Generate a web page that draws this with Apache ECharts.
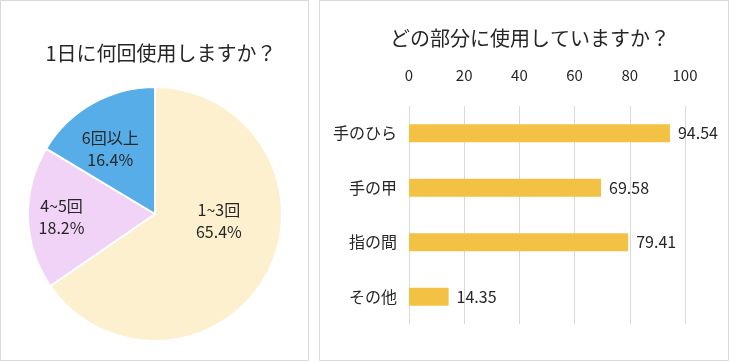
<!DOCTYPE html>
<html>
<head>
<meta charset="utf-8">
<script src="https://cdn.jsdelivr.net/npm/echarts@6/dist/echarts.min.js"></script>
<style>
html,body{margin:0;padding:0;background:#fff;}
#c{width:730px;height:362px;}
</style>
</head>
<body>
<div id="c"></div>
<script>
// Pie data
const pieTitle = '1日に何回使用しますか？';
const pieNames = ['1~3回', '4~5回', '6回以上'];
const pieValues = [65.4, 18.2, 16.4];
const pieColors = ['#FCF0CF', '#F1D3F7', '#56ADE8'];
// label nudges (px) to mimic original placement
const pieLabelOffsets = [[5, -24], [-27, 1], [-12, -7]];

// Bar data
const barTitle = 'どの部分に使用していますか？';
const barCategories = ['手のひら', '手の甲', '指の間', 'その他'];
const barValues = [94.54, 69.58, 79.41, 14.35];
const xTicks = [0, 20, 40, 60, 80, 100];

const font = '"Noto Sans CJK JP", "Noto Sans", sans-serif';
const txt = '#262626';

const chart = echarts.init(document.getElementById('c'), null, {renderer: 'canvas'});
chart.setOption({
  backgroundColor: '#fff',
  animation: false,
  textStyle: {fontFamily: font, color: txt},
  graphic: [
    {type: 'rect', shape: {x: 0.5, y: 0.5, width: 308, height: 360}, style: {fill: 'none', stroke: '#D9D9D9', lineWidth: 1}, z: -1},
    {type: 'rect', shape: {x: 319.5, y: 0.5, width: 409, height: 360}, style: {fill: 'none', stroke: '#D9D9D9', lineWidth: 1}, z: -1}
  ],
  title: [
    {text: pieTitle, left: 156, top: 38, textAlign: 'center',
     textStyle: {fontFamily: font, fontSize: 20, fontWeight: 'normal', color: txt}},
    {text: barTitle, left: 525, top: 23, textAlign: 'center',
     textStyle: {fontFamily: font, fontSize: 20, fontWeight: 'normal', color: txt}}
  ],
  grid: {left: 409, right: 45, top: 106, bottom: 38, containLabel: false},
  xAxis: {
    type: 'value', position: 'top', min: 0, max: 100, interval: 20,
    axisLine: {show: false}, axisTick: {show: false},
    splitLine: {show: true, lineStyle: {color: '#D9D9D9', width: 1}},
    axisLabel: {margin: 23, fontSize: 15, color: txt, fontFamily: font,
      formatter: v => xTicks.includes(v) ? String(v) : ''}
  },
  yAxis: {
    type: 'category', data: barCategories, inverse: true,
    axisLine: {show: false}, axisTick: {show: false},
    axisLabel: {margin: 12, fontSize: 16, color: txt, fontFamily: font}
  },
  series: [
    {
      type: 'pie',
      center: [155, 214],
      radius: [0, 127],
      startAngle: 90,
      clockwise: true,
      data: pieNames.map((n, i) => ({
        name: n, value: pieValues[i],
        itemStyle: {color: pieColors[i]},
        label: {offset: pieLabelOffsets[i]}
      })),
      itemStyle: {borderColor: '#fff', borderWidth: 2},
      label: {
        show: true, position: 'inside',
        formatter: p => p.name + '\n' + p.value.toFixed(1) + '%',
        fontSize: 16, lineHeight: 22, color: txt, fontFamily: font
      },
      labelLine: {show: false},
      emphasis: {disabled: true}
    },
    {
      type: 'bar',
      data: barValues,
      barWidth: 18,
      itemStyle: {color: '#F3C143'},
      label: {
        show: true, position: 'right', distance: 8,
        fontSize: 16, color: txt, fontFamily: font,
        formatter: p => p.value.toFixed(2)
      }
    }
  ]
});
</script>
</body>
</html>
